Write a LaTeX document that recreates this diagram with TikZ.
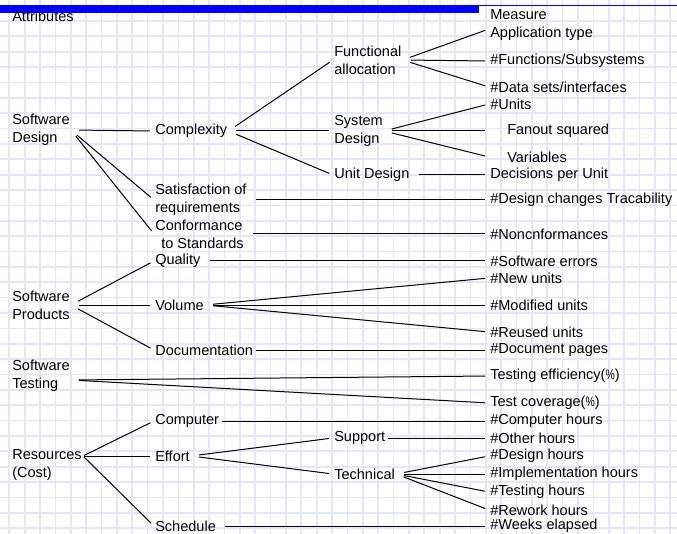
\documentclass[tikz,border=0pt]{standalone}
\usepackage{fontspec}
\setmainfont{Liberation Sans}
\usetikzlibrary{calc}
\definecolor{gridlav}{RGB}{229,229,255}
\definecolor{barblue}{RGB}{0,0,255}
\newcommand{\pct}{(\scalebox{0.72}[0.95]{\%})}

\begin{document}
\begin{tikzpicture}[x=0.75pt,y=0.75pt,yscale=-1,xscale=1,
  lbl/.style={anchor=west,inner sep=0.75pt,align=left,font=\fontsize{10.9}{13.3}\selectfont},
  wire/.style={line width=0.75, shorten <=6pt, shorten >=3pt},
  tight/.style={line width=0.75, shorten <=1pt, shorten >=3pt}]
\useasboundingbox (0,0) rectangle (677,534);

%Grid
\foreach \k in {0,...,43} {\draw [color=gridlav, line width=1.3pt] ({9.3+15.37*\k},0) -- ({9.3+15.37*\k},534);}
\foreach \k in {0,...,34} {\draw [color=gridlav, line width=1.3pt] (0,{5.6+15.37*\k}) -- (677,{5.6+15.37*\k});}

%Shape: Rectangle [bar]
\fill [barblue] (0,5) rectangle (479,12.7);
%Straight Lines [bar rule]
\draw [barblue, line width=0.75] (479,5.5) -- (677,5.5);

% Text Node
\draw (11,16) node (attr) [lbl] {Attributes};
% Text Node
\draw (11,130) node (sd) [lbl] {Software\\Design};
% Text Node
\draw (11,305) node (sp) [lbl] {Software\\Products};
% Text Node
\draw (11,376) node (st) [lbl] {Software\\Testing};
% Text Node
\draw (11,465) node (res) [lbl] {Resources\\(Cost)};

% Text Node
\draw (154,131) node (cplx) [lbl] {Complexity};
% Text Node
\draw (154,200) node (sat) [lbl] {Satisfaction of\\requirements};
% Text Node
\draw (154,234) node (conf) [lbl] {Conformance\\\hspace{4.5pt}to Standards};
% Text Node
\draw (154,261) node (qual) [lbl] {Quality};
% Text Node
\draw (154,305) node (vol) [lbl] {Volume};
% Text Node
\draw (154,350) node (doc) [lbl] {Documentation};
% Text Node
\draw (154,421) node (comp) [lbl] {Computer};
% Text Node
\draw (154,456) node (eff) [lbl] {Effort};
% Text Node
\draw (154,526) node (sched) [lbl] {Schedule};

% Text Node
\draw (333,60) node (fa) [lbl] {Functional\\allocation};
% Text Node
\draw (333,131) node (sysd) [lbl] {System\\Design};
% Text Node
\draw (333,175) node (ud) [lbl] {Unit Design};
% Text Node
\draw (333,438) node (supp) [lbl] {Support};
% Text Node
\draw (333,474) node (tech) [lbl] {Technical};

% Text Node
\draw (489,25) node (appl) [lbl] {Measure\\Application type};
% Text Node
\draw (489,61) node (func) [lbl] {\#Functions/Subsystems};
% Text Node
\draw (489,87) node (dsets) [lbl] {\#Data sets/interfaces};
% Text Node
\draw (489,104) node (units) [lbl] {\#Units};
% Text Node
\draw (489,131) node (fanout) [lbl] {\hspace{12.75pt}Fanout squared};
% Text Node
\draw (489,157) node (vars) [lbl] {\hspace{12.75pt}Variables};
% Text Node
\draw (489,175) node (dpu) [lbl] {Decisions per Unit};
% Text Node
\draw (489,200) node (dchg) [lbl] {\#Design changes Tracability};
% Text Node
\draw (489,234) node (nonc) [lbl] {\#Noncnformances};
% Text Node
\draw (489,261) node (swerr) [lbl] {\#Software errors};
% Text Node
\draw (489,278) node (newu) [lbl] {\#New units};
% Text Node
\draw (489,305) node (modu) [lbl] {\#Modified units};
% Text Node
\draw (489,332) node (reuu) [lbl] {\#Reused units};
% Text Node
\draw (489,350) node (docp) [lbl] {\#Document pages};
% Text Node
\draw (489,376) node (teff) [lbl] {Testing efficiency\pct};
% Text Node
\draw (489,403) node (tcov) [lbl] {Test coverage\pct};
% Text Node
\draw (489,421) node (comph) [lbl] {\#Computer hours};
% Text Node
\draw (489,438) node (othh) [lbl] {\#Other hours};
% Text Node
\draw (489,456) node (desh) [lbl] {\#Design hours};
% Text Node
\draw (489,474) node (implh) [lbl] {\#Implementation hours};
% Text Node
\draw (489,492) node (testh) [lbl] {\#Testing hours};
% Text Node
\draw (489,510) node (rewh) [lbl] {\#Rework hours};
% Text Node
\draw (489,526) node (weeks) [lbl] {\#Weeks elapsed};

% Connection
\draw [wire] (sd.east) -- (cplx.west);
\draw [wire] (sd.east) -- (sat.west);
\draw [wire] (sd.east) -- (conf.west);
% Connection
\draw [wire] (cplx.east) -- (fa.west);
\draw [wire] (cplx.east) -- (sysd.west);
\draw [wire] (cplx.east) -- (ud.west);
% Connection
\draw [wire] (fa.east) -- ($(appl.west)+(0,4)$);
\draw [wire] (fa.east) -- (func.west);
\draw [wire] (fa.east) -- (dsets.west);
% Connection
\draw [wire] (sysd.east) -- (units.west);
\draw [wire] (sysd.east) -- (fanout.west);
\draw [wire] (sysd.east) -- (vars.west);
% Connection
\draw [wire] (ud.east) -- (dpu.west);
\draw [wire] (sat.east) -- (dchg.west);
\draw [wire] (conf.east) -- (nonc.west);
% Connection
\draw [wire] (sp.east) -- (qual.west);
\draw [wire] (sp.east) -- (vol.west);
\draw [wire] (sp.east) -- (doc.west);
% Connection
\draw [wire] (qual.east) -- (swerr.west);
\draw [wire] (vol.east) -- (newu.west);
\draw [wire] (vol.east) -- (modu.west);
\draw [wire] (vol.east) -- (reuu.west);
\draw [tight] (doc.east) -- (docp.west);
% Connection
\draw [wire] ($(st.east)+(0,4)$) -- (teff.west);
\draw [wire] ($(st.east)+(0,4)$) -- (tcov.west);
% Connection
\draw [tight] ($(res.east)+(0,-9)$) -- (comp.west);
\draw [tight] ($(res.east)+(0,-9)$) -- (eff.west);
\draw [tight] ($(res.east)+(0,-9)$) -- (sched.west);
% Connection
\draw [tight] (comp.east) -- (comph.west);
\draw [wire] (eff.east) -- (supp.west);
\draw [wire] (eff.east) -- (tech.west);
\draw [tight] (supp.east) -- (othh.west);
\draw [wire] (sched.east) -- (weeks.west);
% Connection
\draw [wire] (tech.east) -- (desh.west);
\draw [wire] (tech.east) -- (implh.west);
\draw [wire] (tech.east) -- (testh.west);
\draw [wire] (tech.east) -- (rewh.west);

\end{tikzpicture}
\end{document}
